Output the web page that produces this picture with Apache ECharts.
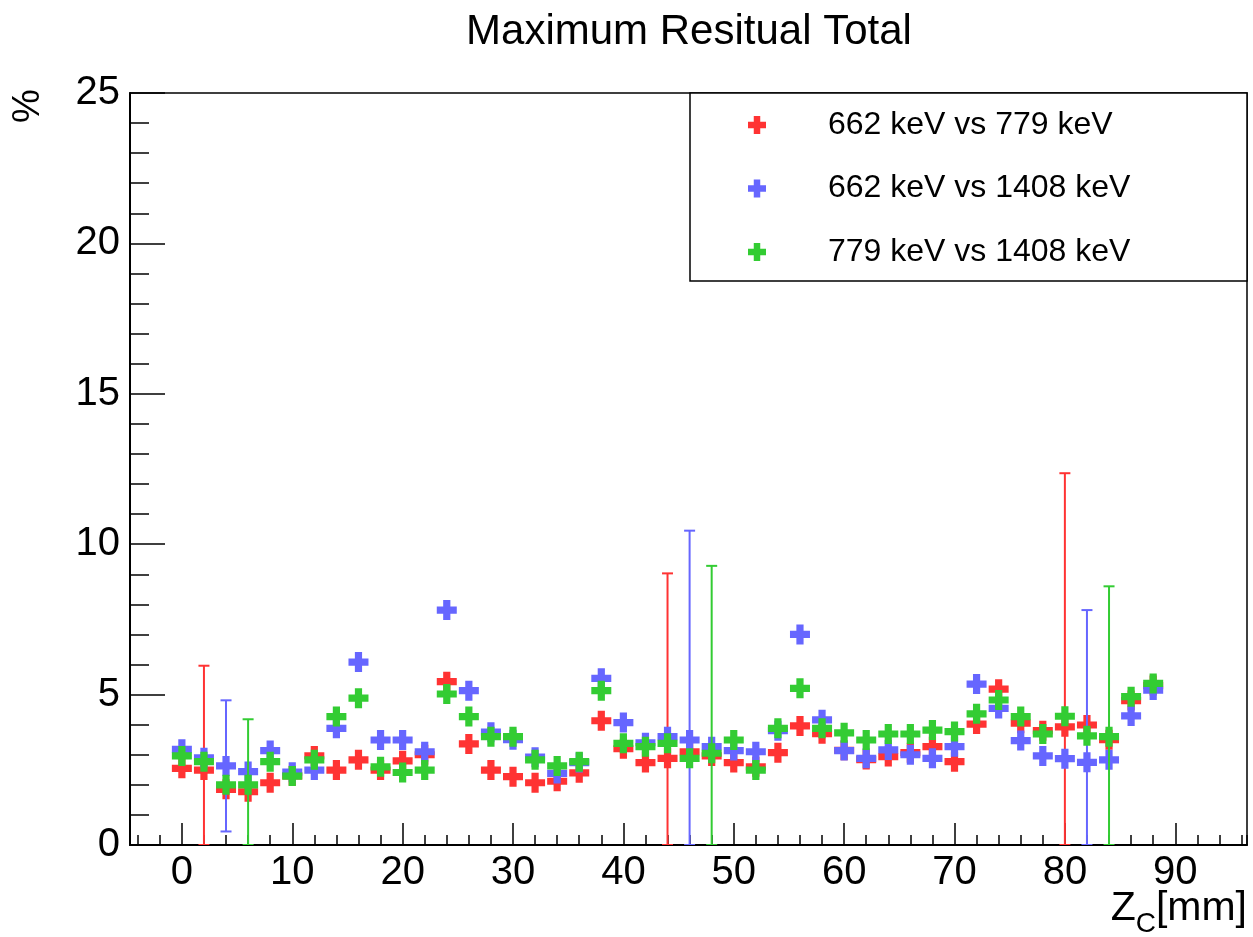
<!DOCTYPE html>
<html><head><meta charset="utf-8">
<script src="https://cdn.jsdelivr.net/npm/echarts@6/dist/echarts.min.js"></script>
<style>html,body{margin:0;padding:0;background:#fff}#c{width:1253px;height:937px}</style>
</head><body><div id="c"></div>
<script>
// ---- data ----
const zc = [0,2,4,6,8,10,12,14,16,18,20,22,24,26,28,30,32,34,36,38,40,42,44,46,48,50,52,54,56,58,60,62,64,66,68,70,72,74,76,78,80,82,84,86,88];
const red = [2.55,2.49,1.85,1.77,2.07,2.30,2.96,2.49,2.83,2.49,2.80,3.00,5.43,3.36,2.49,2.27,2.07,2.12,2.40,4.13,3.20,2.74,2.88,3.10,2.96,2.74,2.60,3.07,3.96,3.70,3.15,2.84,2.94,3.07,3.27,2.77,4.02,5.18,4.05,3.80,3.93,3.99,3.50,4.80,5.30];
const blue = [3.18,2.90,2.63,2.44,3.14,2.42,2.49,3.88,6.08,3.49,3.49,3.10,7.81,5.13,3.75,3.50,2.92,2.38,2.74,5.54,4.07,3.40,3.60,3.49,3.27,3.14,3.10,3.80,7.00,4.16,3.14,2.88,3.16,3.00,2.88,3.27,5.35,4.54,3.47,2.96,2.87,2.75,2.83,4.29,5.15];
const green = [2.96,2.77,2.00,2.00,2.77,2.29,2.83,4.27,4.88,2.60,2.41,2.49,5.02,4.27,3.60,3.60,2.83,2.63,2.77,5.13,3.38,3.27,3.38,2.88,3.05,3.49,2.49,3.88,5.21,3.88,3.73,3.49,3.69,3.69,3.82,3.77,4.36,4.82,4.27,3.69,4.28,3.63,3.60,4.93,5.37];
const redErr = [0,3.47,0,0,0,0,0,0,0,0,0,0,0,0,0,0,0,0,0,0,0,0,6.15,0,0,0,0,0,0,0,0,0,0,0,0,0,0,0,0,0,8.43,0,0,0,0];
const blueErr = [0,0,2.18,0,0,0,0,0,0,0,0,0,0,0,0,0,0,0,0,0,0,0,0,6.96,0,0,0,0,0,0,0,0,0,0,0,0,0,0,0,0,0,5.06,0,0,0];
const greenErr = [0,0,0,2.18,0,0,0,0,0,0,0,0,0,0,0,0,0,0,0,0,0,0,0,0,6.23,0,0,0,0,0,0,0,0,0,0,0,0,0,0,0,0,0,5.00,0,0];
const seriesNames = ['662 keV vs 779 keV', '662 keV vs 1408 keV', '779 keV vs 1408 keV'];
const titleText = 'Maximum Resitual Total';
const yName = '%';

// ---- style ----
const FONT = 'Liberation Sans';
const PLUS = 'path://M32 0H68V32H100V68H68V100H32V68H0V32H32Z';
const colors = ['#ff3333', '#6666ff', '#33cc33'];

function pts(vals) { return zc.map((x, i) => [x, vals[i]]); }
function errPts(vals, errs) { return zc.map((x, i) => [x, vals[i], errs[i]]).filter(d => d[2] > 0); }

function errSeries(name, vals, errs, color, z) {
  return {
    type: 'custom', name: name + ' err', z: z, clip: true, silent: true,
    data: errPts(vals, errs), encode: { x: 0, y: 1 },
    renderItem: function (params, api) {
      const x = api.value(0), y = api.value(1), e = api.value(2);
      const lo = Math.max(y - e, 0), hi = y + e;
      const pt = api.coord([x, hi]), pb = api.coord([x, lo]);
      const cw = 5.5;
      const st = { stroke: color, lineWidth: 2 };
      return { type: 'group', children: [
        { type: 'line', shape: { x1: pt[0], y1: pt[1], x2: pb[0], y2: pb[1] }, style: st },
        { type: 'line', shape: { x1: pt[0] - cw, y1: pt[1], x2: pt[0] + cw, y2: pt[1] }, style: st },
        { type: 'line', shape: { x1: pb[0] - cw, y1: pb[1], x2: pb[0] + cw, y2: pb[1] }, style: st }
      ] };
    }
  };
}
function scatterSeries(name, vals, color, z) {
  return { type: 'scatter', name: name, z: z, symbol: PLUS, symbolSize: 20,
    itemStyle: { color: color, opacity: 1 }, data: pts(vals), silent: true };
}

const chart = echarts.init(document.getElementById('c'), null, { renderer: 'canvas' });
const option = {
  animation: false,
  backgroundColor: '#fff',
  title: {
    text: titleText, left: 689, top: 32, padding: 0,
    textAlign: 'center', textVerticalAlign: 'middle',
    textStyle: { fontFamily: FONT, fontSize: 42, fontWeight: 'normal', color: '#000' }
  },
  grid: { left: 130, right: 6, top: 93, bottom: 92, show: true, borderColor: '#000', borderWidth: 1.5,
    containLabel: false, outerBoundsMode: 'none' },
  legend: {
    orient: 'vertical', left: 748, top: 109, padding: 0, itemGap: 31.5,
    itemWidth: 18, itemHeight: 18, selectedMode: false, z: 10,
    data: seriesNames.map(n => ({ name: n, icon: PLUS })),
    formatter: n => '{sp|}{t|' + n + '}',
    textStyle: { fontFamily: FONT, fontSize: 32, color: '#000', lineHeight: 32,
      rich: { sp: { width: 57 }, t: { fontFamily: FONT, fontSize: 32, color: '#000', lineHeight: 32 } } }
  },
  graphic: [{
    type: 'rect', z: 1, shape: { x: 690, y: 93, width: 557, height: 188 },
    style: { fill: '#fff', stroke: '#000', lineWidth: 1.5 }
  }, {
    type: 'text', z: 10, x: 29, y: 106, rotation: Math.PI / 2,
    style: { text: yName, fontFamily: FONT, fontSize: 38, fill: '#000', align: 'center', verticalAlign: 'middle' }
  }],
  xAxis: [{
    type: 'value', min: -4.7, max: 96.5, splitNumber: 10, position: 'bottom',
    name: '{z|Z}{s|C}{z|[mm]}', nameLocation: 'end', nameGap: 0, nameMoveOverlap: false,
    nameTextStyle: { align: 'right', verticalAlign: 'top', padding: [43, 0, 0, 0],
      rich: { z: { fontFamily: FONT, fontSize: 41, lineHeight: 50, verticalAlign: 'top', color: '#000' },
              s: { fontFamily: FONT, fontSize: 28, verticalAlign: 'bottom', color: '#000' } } },
    axisLine: { show: true, onZero: false, lineStyle: { color: '#000', width: 2 } },
    axisTick: { show: true, inside: true, length: 22, lineStyle: { color: '#000', width: 1.5 } },
    axisLabel: { show: true, margin: 8, showMinLabel: false, showMaxLabel: false,
      fontFamily: FONT, fontSize: 40, color: '#000',
      formatter: v => (Math.abs(v % 10) < 1e-9 ? String(v) : '') },
    splitLine: { show: false }
  }, {
    type: 'value', min: -4.7, max: 96.5, splitNumber: 50, position: 'bottom',
    axisLine: { show: false }, axisLabel: { show: false }, splitLine: { show: false },
    axisTick: { show: true, inside: true, length: 10, lineStyle: { color: '#000', width: 1.5 } }
  }],
  yAxis: {
    type: 'value', min: 0, max: 25, interval: 5,
    axisLine: { show: true, onZero: false, lineStyle: { color: '#000', width: 2 } },
    axisTick: { show: true, inside: true, length: 35, lineStyle: { color: '#000', width: 1.5 } },
    minorTick: { show: true, splitNumber: 5, length: 19, lineStyle: { color: '#000', width: 1.5 } },
    axisLabel: { margin: 10, fontFamily: FONT, fontSize: 40, color: '#000' },
    splitLine: { show: false }
  },
  series: [
    errSeries(seriesNames[0], red, redErr, colors[0], 2),
    scatterSeries(seriesNames[0], red, colors[0], 3),
    errSeries(seriesNames[1], blue, blueErr, colors[1], 4),
    scatterSeries(seriesNames[1], blue, colors[1], 5),
    errSeries(seriesNames[2], green, greenErr, colors[2], 6),
    scatterSeries(seriesNames[2], green, colors[2], 7)
  ]
};
chart.setOption(option);
</script>
</body></html>
